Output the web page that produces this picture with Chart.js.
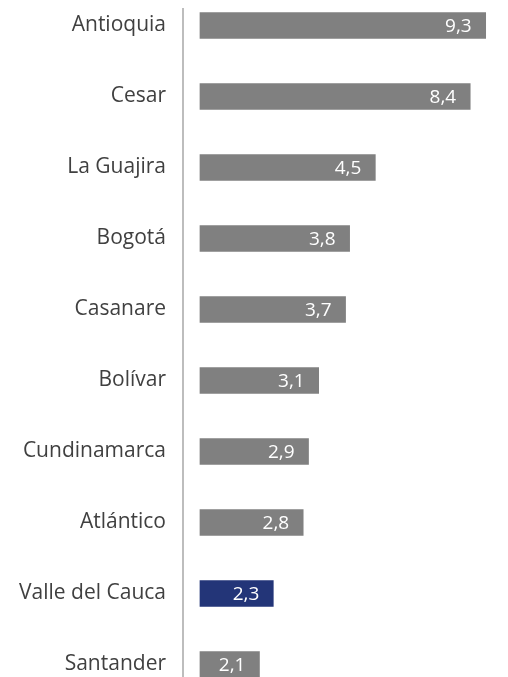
<!DOCTYPE html>
<html>
<head>
<meta charset="utf-8">
<script src="https://cdn.jsdelivr.net/npm/chart.js@4/dist/chart.umd.min.js"></script>
<style>
  html, body { margin: 0; padding: 0; background: #fff; overflow: hidden; }
  #chart { position: absolute; top: -20px; left: 0; }
</style>
</head>
<body>
<canvas id="chart" width="508" height="730"></canvas>
<script>
"use strict";

const departamentos = [
  "Antioquia", "Cesar", "La Guajira", "Bogotá", "Casanare",
  "Bolívar", "Cundinamarca", "Atlántico", "Valle del Cauca", "Santander"
];
const valores = [9.3, 8.4, 4.5, 3.8, 3.7, 3.1, 2.9, 2.8, 2.3, 2.1];
const destacado = "Valle del Cauca";

const gris = "#808080";
const azul = "#233578";

const barColors = departamentos.map(d => (d === destacado ? azul : gris));

// white value labels inside the bar end
const valueLabels = {
  id: "valueLabels",
  afterDatasetsDraw(chart) {
    const ctx = chart.ctx;
    const meta = chart.getDatasetMeta(0);
    ctx.save();
    ctx.font = "19px 'Open Sans', sans-serif";
    ctx.fillStyle = "#ffffff";
    ctx.textAlign = "right";
    ctx.textBaseline = "middle";
    meta.data.forEach((bar, i) => {
      const txt = valores[i].toFixed(1).replace(".", ",");
      ctx.fillText(txt, Math.min(bar.x, chart.width) - 14, bar.y + 1);
    });
    ctx.restore();
  }
};

// vertical axis line
const axisLine = {
  id: "axisLine",
  afterDraw(chart) {
    const ctx = chart.ctx;
    const x = chart.chartArea.left;
    ctx.save();
    ctx.strokeStyle = "#bdbdbd";
    ctx.lineWidth = 2;
    ctx.beginPath();
    ctx.moveTo(x, 28);
    ctx.lineTo(x, chart.height);
    ctx.stroke();
    ctx.restore();
  }
};

const ctx = document.getElementById("chart").getContext("2d");

const chart = new Chart(ctx, {
  type: "bar",
  data: {
    labels: departamentos,
    datasets: [
      {
        data: valores,
        backgroundColor: barColors,
        barThickness: 26,
        base: 1.42
      }
    ]
  },
  options: {
    indexAxis: "y",
    responsive: false,
    animation: false,
    layout: { padding: { top: 10, bottom: 10, left: 0, right: 0 } },
    plugins: {
      legend: { display: false },
      tooltip: { enabled: false }
    },
    scales: {
      x: {
        type: "logarithmic",
        min: 1.27,
        max: 10.77,
        display: false
      },
      y: {
        grid: { display: false, drawTicks: false },
        border: { display: false },
        ticks: {
          color: "#404040",
          padding: 17,
          font: { family: "'Open Sans', sans-serif", size: 21 }
        },
        afterFit(scale) {
          scale.width = 183;
          scale.paddingTop = 0;
          scale.paddingBottom = 0;
        }
      }
    }
  },
  plugins: [valueLabels, axisLine]
});
</script>
</body>
</html>
